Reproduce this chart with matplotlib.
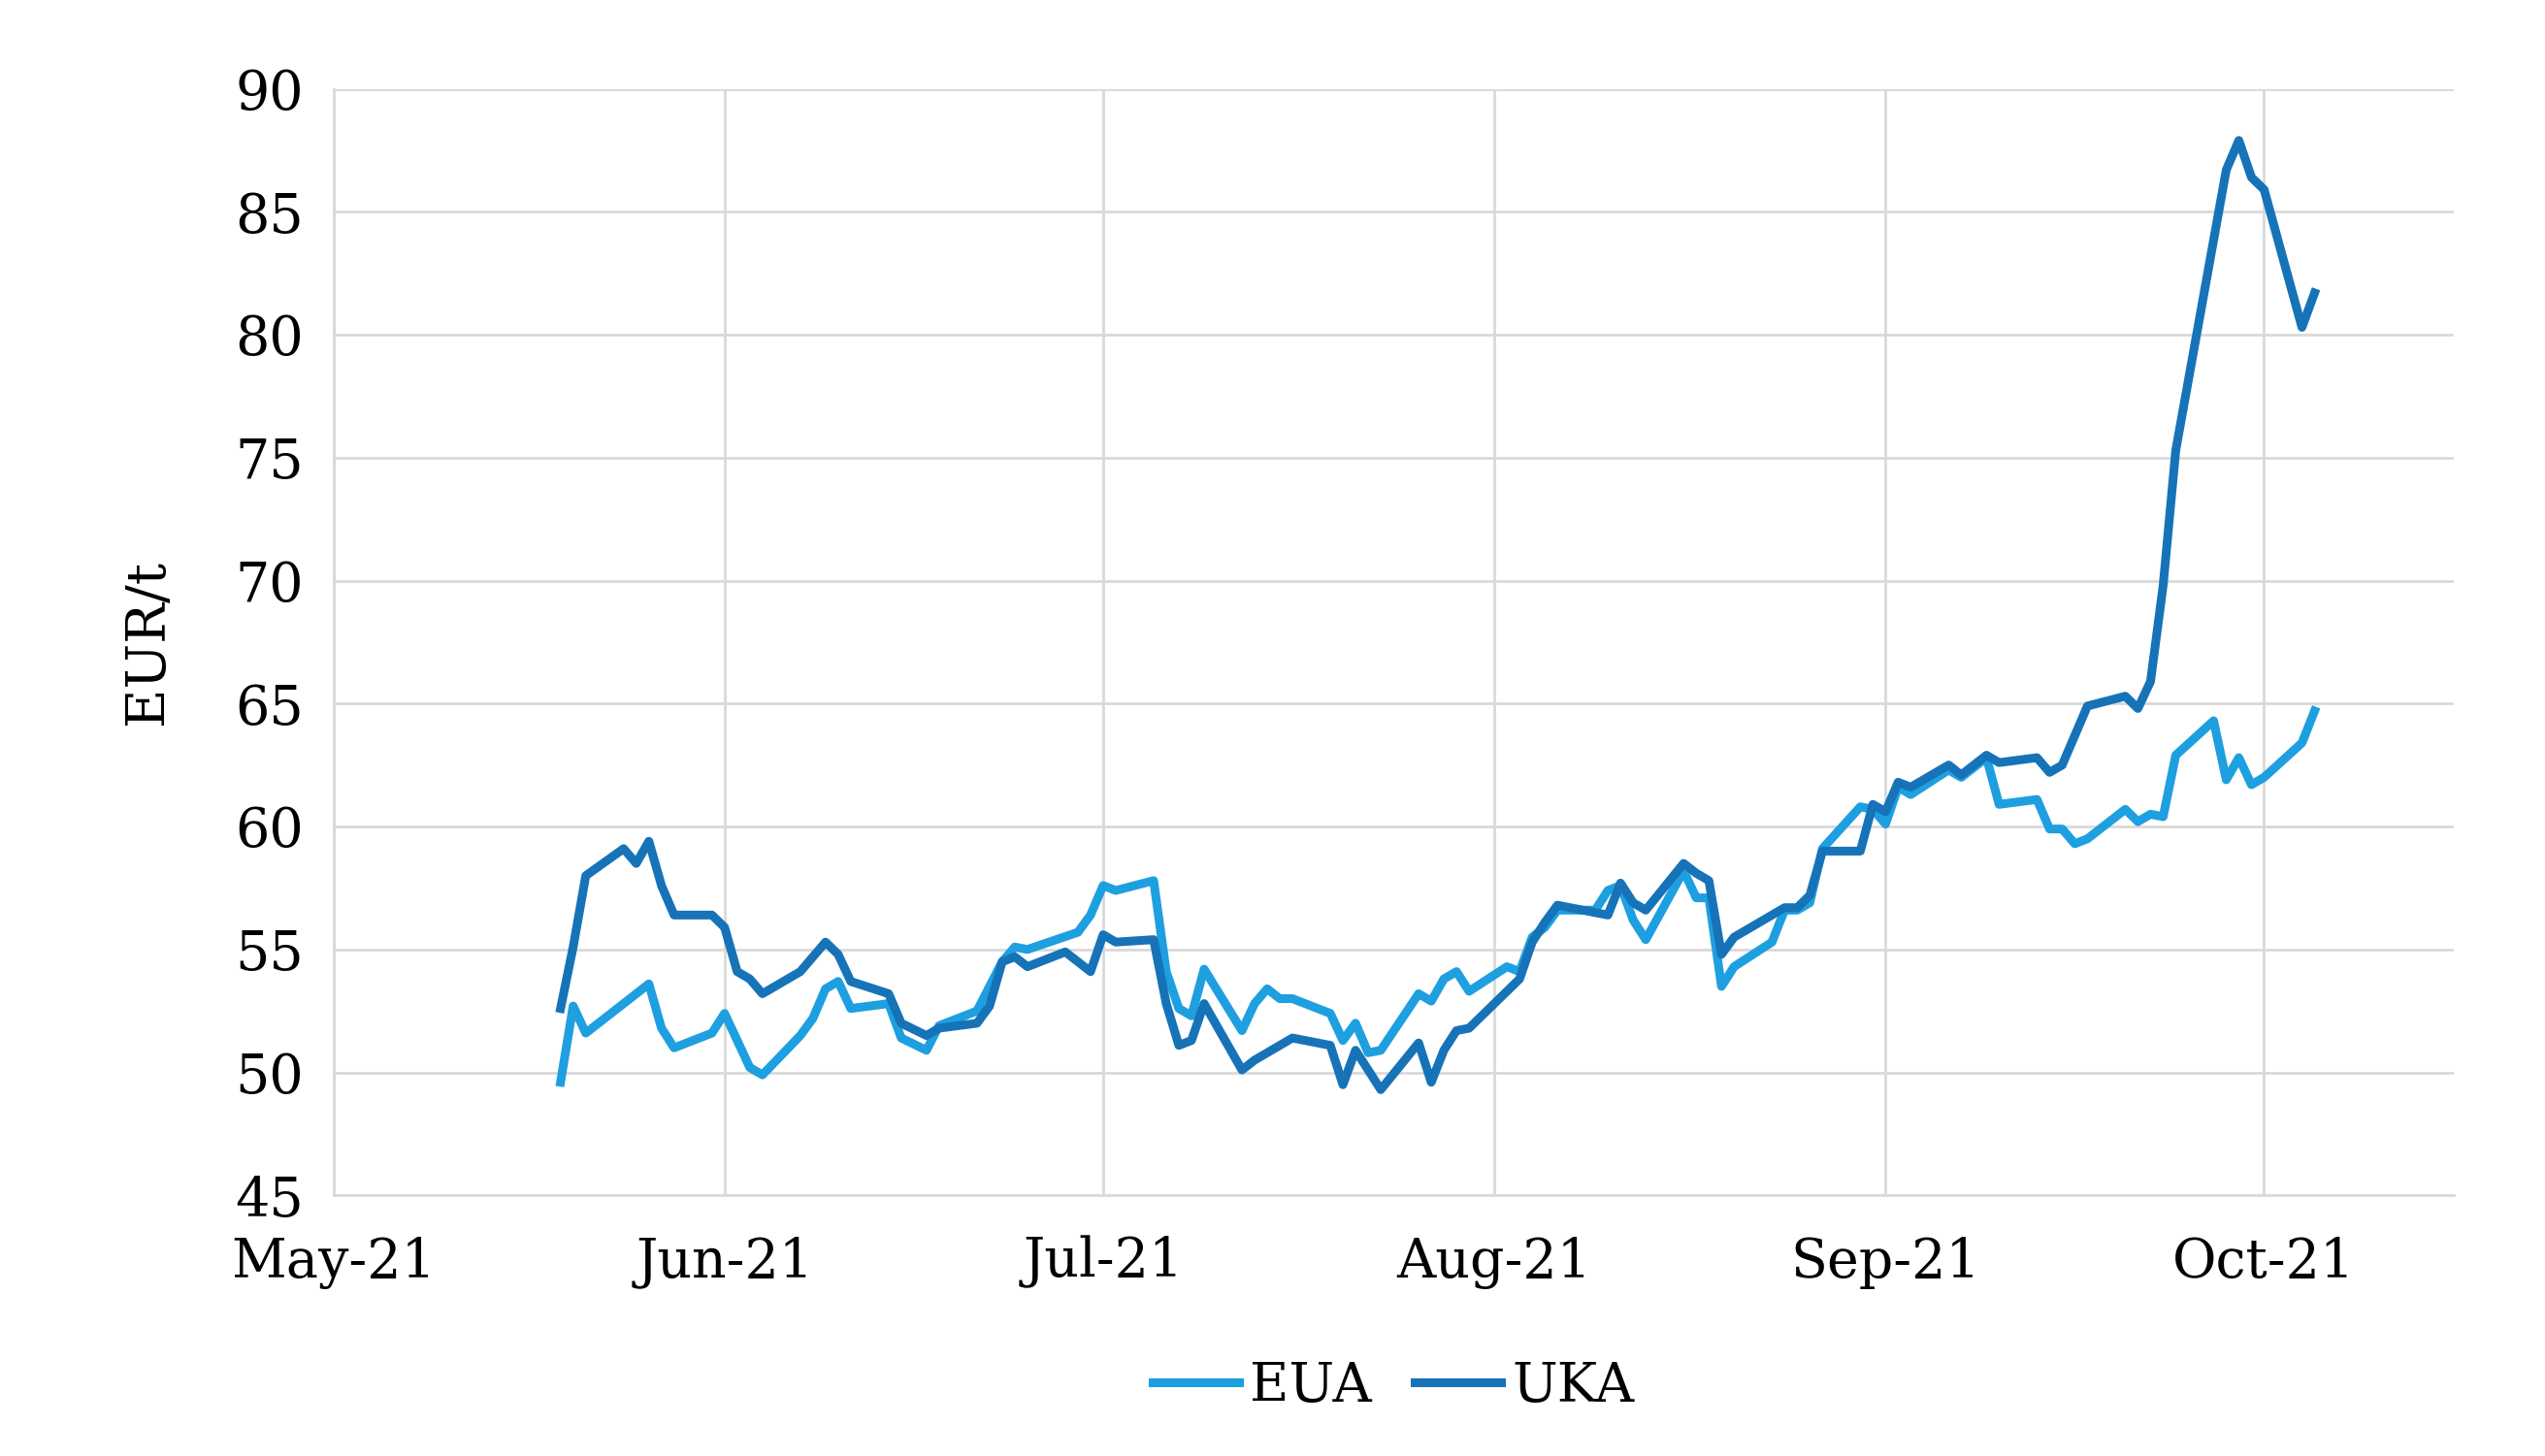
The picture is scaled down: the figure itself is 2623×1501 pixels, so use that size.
import matplotlib
matplotlib.use("Agg")
import matplotlib.pyplot as plt
import matplotlib.dates as mdates
import pandas as pd

uka_dates = ["2021-05-19","2021-05-20","2021-05-21","2021-05-24","2021-05-25","2021-05-26","2021-05-27","2021-05-28","2021-05-31","2021-06-01","2021-06-02","2021-06-03","2021-06-04","2021-06-07","2021-06-09","2021-06-10","2021-06-11","2021-06-14","2021-06-15","2021-06-17","2021-06-18","2021-06-21","2021-06-22","2021-06-23","2021-06-24","2021-06-25","2021-06-28","2021-06-30","2021-07-01","2021-07-02","2021-07-05","2021-07-06","2021-07-07","2021-07-08","2021-07-09","2021-07-12","2021-07-13","2021-07-16","2021-07-19","2021-07-20","2021-07-21","2021-07-22","2021-07-23","2021-07-26","2021-07-27","2021-07-28","2021-07-29","2021-07-30","2021-08-02","2021-08-03","2021-08-04","2021-08-05","2021-08-06","2021-08-10","2021-08-11","2021-08-12","2021-08-13","2021-08-16","2021-08-17","2021-08-18","2021-08-19","2021-08-20","2021-08-24","2021-08-25","2021-08-26","2021-08-27","2021-08-30","2021-08-31","2021-09-01","2021-09-02","2021-09-03","2021-09-06","2021-09-07","2021-09-09","2021-09-10","2021-09-13","2021-09-14","2021-09-15","2021-09-16","2021-09-17","2021-09-20","2021-09-21","2021-09-22","2021-09-23","2021-09-24","2021-09-28","2021-09-29","2021-09-30","2021-10-01","2021-10-04","2021-10-05"]
uka_values = [52.6,55.1,58.0,59.1,58.5,59.4,57.6,56.4,56.4,55.9,54.1,53.8,53.2,54.1,55.3,54.8,53.7,53.2,52.0,51.5,51.8,52.0,52.7,54.5,54.7,54.3,54.9,54.1,55.6,55.3,55.4,52.8,51.1,51.3,52.8,50.1,50.5,51.4,51.1,49.5,50.9,50.1,49.3,51.2,49.6,50.9,51.7,51.8,53.3,53.8,55.3,56.1,56.8,56.4,57.7,56.9,56.6,58.5,58.1,57.8,54.8,55.5,56.7,56.7,57.2,59.0,59.0,60.9,60.6,61.8,61.6,62.5,62.1,62.9,62.6,62.8,62.2,62.5,63.7,64.9,65.3,64.8,65.9,69.8,75.3,86.7,87.9,86.4,85.9,80.3,81.7]

eua_dates = ["2021-05-19","2021-05-20","2021-05-21","2021-05-24","2021-05-25","2021-05-26","2021-05-27","2021-05-28","2021-05-31","2021-06-01","2021-06-03","2021-06-04","2021-06-07","2021-06-08","2021-06-09","2021-06-10","2021-06-11","2021-06-14","2021-06-15","2021-06-17","2021-06-18","2021-06-21","2021-06-22","2021-06-23","2021-06-24","2021-06-25","2021-06-29","2021-06-30","2021-07-01","2021-07-02","2021-07-05","2021-07-06","2021-07-07","2021-07-08","2021-07-09","2021-07-12","2021-07-13","2021-07-14","2021-07-15","2021-07-16","2021-07-19","2021-07-20","2021-07-21","2021-07-22","2021-07-23","2021-07-26","2021-07-27","2021-07-28","2021-07-29","2021-07-30","2021-08-02","2021-08-03","2021-08-04","2021-08-05","2021-08-06","2021-08-09","2021-08-10","2021-08-11","2021-08-12","2021-08-13","2021-08-16","2021-08-17","2021-08-18","2021-08-19","2021-08-20","2021-08-23","2021-08-24","2021-08-25","2021-08-26","2021-08-27","2021-08-30","2021-08-31","2021-09-01","2021-09-02","2021-09-03","2021-09-06","2021-09-07","2021-09-09","2021-09-10","2021-09-13","2021-09-14","2021-09-15","2021-09-16","2021-09-17","2021-09-20","2021-09-21","2021-09-22","2021-09-23","2021-09-24","2021-09-27","2021-09-28","2021-09-29","2021-09-30","2021-10-01","2021-10-04","2021-10-05"]
eua_values = [49.6,52.7,51.6,52.8,53.2,53.6,51.8,51.0,51.6,52.4,50.2,49.9,51.5,52.2,53.4,53.7,52.6,52.8,51.4,50.9,51.9,52.5,53.5,54.5,55.1,55.0,55.7,56.4,57.6,57.4,57.8,54.1,52.6,52.3,54.2,51.7,52.8,53.4,53.0,53.0,52.4,51.3,52.0,50.8,50.9,53.2,52.9,53.8,54.1,53.3,54.3,54.1,55.5,55.9,56.6,56.6,57.4,57.6,56.2,55.4,58.2,57.1,57.1,53.5,54.3,55.3,56.6,56.6,56.9,59.1,60.8,60.7,60.1,61.6,61.3,62.3,62.0,62.8,60.9,61.1,59.9,59.9,59.3,59.5,60.7,60.2,60.5,60.4,62.9,64.3,61.9,62.8,61.7,62.0,63.4,64.7]

series_names = ["EUA", "UKA"]
y_ticks = [45, 50, 55, 60, 65, 70, 75, 80, 85, 90]
x_ticks = ["2021-05-01","2021-06-01","2021-07-01","2021-08-01","2021-09-01","2021-10-01"]

plt.rcParams['font.family'] = ['DejaVu Serif', 'Liberation Serif']
fig = plt.figure(figsize=(26.23, 15.01), dpi=100)
ax = fig.add_axes([0.131, 0.179, 0.833, 0.760])

grid_c = "#d9d9d9"
ax.plot(pd.to_datetime(eua_dates), eua_values, color="#1e9fe0", lw=6.5, label=series_names[0], solid_joinstyle="round")
ax.plot(pd.to_datetime(uka_dates), uka_values, color="#1673b8", lw=6.5, label=series_names[1], solid_joinstyle="round")

ax.set_ylim(45, 90)
ax.set_yticks(y_ticks)
ax.set_xlim(pd.Timestamp("2021-05-01"), pd.Timestamp("2021-10-16"))
ax.set_xticks(pd.to_datetime(x_ticks))
ax.xaxis.set_major_formatter(mdates.DateFormatter("%b-%y"))
ax.grid(True, color=grid_c, lw=2)
ax.set_axisbelow(True)
for s in ["top", "right"]:
    ax.spines[s].set_visible(False)
for s in ["left", "bottom"]:
    ax.spines[s].set_color(grid_c)
    ax.spines[s].set_linewidth(2)
ax.tick_params(axis="both", length=0, labelsize=40, colors="black")
ax.tick_params(axis="x", pad=30)
ax.tick_params(axis="y", pad=22)
ax.set_ylabel("EUR/t", fontsize=40, labelpad=45)
ax.legend(loc="upper center", bbox_to_anchor=(0.5, -0.105), ncol=2, frameon=False,
          fontsize=40, handlelength=1.6, columnspacing=0.8, handletextpad=0.2)
fig.savefig("out.png", dpi=100)
